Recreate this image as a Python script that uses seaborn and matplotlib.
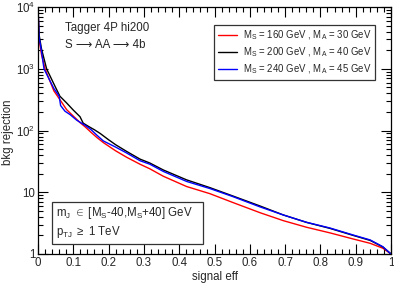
import matplotlib
matplotlib.use("Agg")
import matplotlib.pyplot as plt
import matplotlib.ticker as mticker
from matplotlib.lines import Line2D
from matplotlib.patches import Rectangle
import numpy as np
import pandas as pd
import seaborn as sns

# values (signal efficiency vs background rejection)
eff_red = [0, 0.003, 0.01, 0.02, 0.045, 0.062, 0.081, 0.1, 0.119, 0.135, 0.15, 0.166, 0.185, 0.22, 0.251,
           0.289, 0.317, 0.355, 0.421, 0.487, 0.55, 0.629, 0.695, 0.761, 0.827, 0.893, 0.941, 0.977, 1.0]
rej_red = [10000, 3000, 1700, 1000, 440, 318, 219, 172, 135, 113, 94, 78, 64, 47, 37,
           28.5, 24, 18.2, 12.4, 9.5, 6.9, 4.67, 3.47, 2.71, 2.2, 1.75, 1.49, 1.24, 1.0]

eff_black = [0, 0.003, 0.01, 0.0245, 0.048, 0.062, 0.081, 0.1, 0.119, 0.128, 0.143, 0.16, 0.176, 0.2, 0.22, 0.251,
             0.289, 0.317, 0.355, 0.421, 0.487, 0.55, 0.629, 0.695, 0.761, 0.827, 0.893, 0.941, 0.977, 1.0]
rej_black = [10000, 3600, 2100, 1000, 525, 361, 281, 215, 168, 132, 117, 103, 90, 71, 59, 46,
             34.5, 29.8, 23, 15.9, 11.9, 8.8, 6.0, 4.29, 3.25, 2.6, 2.0, 1.66, 1.3, 1.0]

eff_blue = [0, 0.003, 0.01, 0.017, 0.045, 0.06, 0.064, 0.0765, 0.0907, 0.11, 0.133, 0.15, 0.166, 0.185, 0.22, 0.251,
            0.289, 0.317, 0.355, 0.421, 0.487, 0.55, 0.629, 0.695, 0.761, 0.827, 0.893, 0.941, 0.977, 1.0]
rej_blue = [10000, 3300, 1900, 1000, 480, 361, 255, 206, 182, 147, 122, 104, 85, 68, 54, 43.4,
            32.5, 28.5, 21.8, 15, 11.5, 8.6, 5.8, 4.29, 3.26, 2.64, 2.03, 1.69, 1.31, 1.0]

labels = [r"M$_{\rm S}$ = 160 GeV , M$_{\rm A}$ = 30 GeV",
          r"M$_{\rm S}$ = 200 GeV , M$_{\rm A}$ = 40 GeV",
          r"M$_{\rm S}$ = 240 GeV , M$_{\rm A}$ = 45 GeV"]
colors = ["#ff0000", "#000000", "#0000ff"]

# build a long dataframe for seaborn
frames = []
for lab, e, r in zip(labels, [eff_red, eff_black, eff_blue], [rej_red, rej_black, rej_blue]):
    frames.append(pd.DataFrame({"eff": e, "rej": r, "sample": lab}))
df = pd.concat(frames, ignore_index=True)

sns.set_style("ticks")
plt.rcParams['font.family'] = ['Liberation Sans', 'DejaVu Sans']
plt.rcParams['mathtext.fontset'] = 'custom'
plt.rcParams['mathtext.rm'] = 'Liberation Sans'
plt.rcParams['mathtext.it'] = 'Liberation Sans:italic'
fs = 8.3

fig = plt.figure(figsize=(3.94, 2.84), dpi=100)
ax = fig.add_axes([38 / 394, 1 - 254 / 284, 353 / 394, 246.8 / 284])

sns.lineplot(data=df, x="eff", y="rej", hue="sample", palette=colors, ax=ax,
             sort=False, estimator=None, linewidth=1.0, legend=False)

ax.set_yscale("log")
ax.set_xlim(0, 1)
ax.set_ylim(1, 1e4)

# ROOT-like ticks
ax.xaxis.set_major_locator(mticker.MultipleLocator(0.1))
ax.xaxis.set_minor_locator(mticker.MultipleLocator(0.02))
ax.xaxis.set_major_formatter(mticker.FuncFormatter(lambda v, p: "0" if abs(v) < 1e-9 else ("1" if abs(v - 1) < 1e-9 else f"{v:.1f}")))
ax.yaxis.set_major_locator(mticker.LogLocator(base=10, numticks=10))
ax.yaxis.set_minor_locator(mticker.LogLocator(base=10, subs=np.arange(2, 10), numticks=20))
ax.yaxis.set_minor_formatter(mticker.NullFormatter())

def ylab(v, p):
    e = int(round(np.log10(v)))
    if e == 0:
        return "1"
    if e == 1:
        return "10"
    return r"10$^{%d}$" % e

ax.yaxis.set_major_formatter(mticker.FuncFormatter(ylab))
ax.tick_params(which="both", direction="in", top=True, right=True, width=0.8, color="black", labelsize=fs, pad=2)
ax.tick_params(which="major", length=7)
ax.tick_params(which="minor", length=3.5)
for s in ax.spines.values():
    s.set_linewidth(0.9)
    s.set_color("black")

ax.set_xlabel("")
ax.set_ylabel("")
fig.text(214.5 / 394, 1 - 277 / 284, "signal eff", ha="center", va="center", fontsize=fs)
fig.text(8 / 394, 1 - 132 / 284, "bkg rejection", ha="center", va="center", rotation=90, fontsize=fs)

# annotations
ax.text(0.0765, 0.916, "Tagger 4P hi200", transform=ax.transAxes, ha="left", va="center", fontsize=fs)
ax.text(0.0765, 0.847, "S \u27f6 AA \u27f6 4b", transform=ax.transAxes, ha="left", va="center", fontsize=fs,
        family=['Liberation Sans', 'DejaVu Sans'])

ax.add_patch(Rectangle((0.04, 0.04), 0.427, 0.17, transform=ax.transAxes, fill=False,
                       edgecolor="#333333", linewidth=0.9, zorder=5))
ax.text(0.05, 0.166, r"m$_{\rm J}$ $\in$ [M$_{\rm S}$-40,M$_{\rm S}$+40] GeV", transform=ax.transAxes,
        ha="left", va="center", fontsize=fs)
ax.text(0.05, 0.089, r"p$_{\rm TJ}$ $\geq$ 1 TeV", transform=ax.transAxes,
        ha="left", va="center", fontsize=fs)

handles = [Line2D([0], [0], color=c, lw=1.0) for c in colors]
leg = ax.legend(handles, labels, loc="upper left", bbox_to_anchor=(0.499, 0.928), borderaxespad=0,
                fontsize=6.9, handlelength=2.0, handletextpad=0.6, labelspacing=0.35,
                borderpad=0.4, fancybox=False, framealpha=1)
leg.get_frame().set_edgecolor("#333333")
leg.get_frame().set_linewidth(0.9)

fig.savefig("out.png", dpi=100)
